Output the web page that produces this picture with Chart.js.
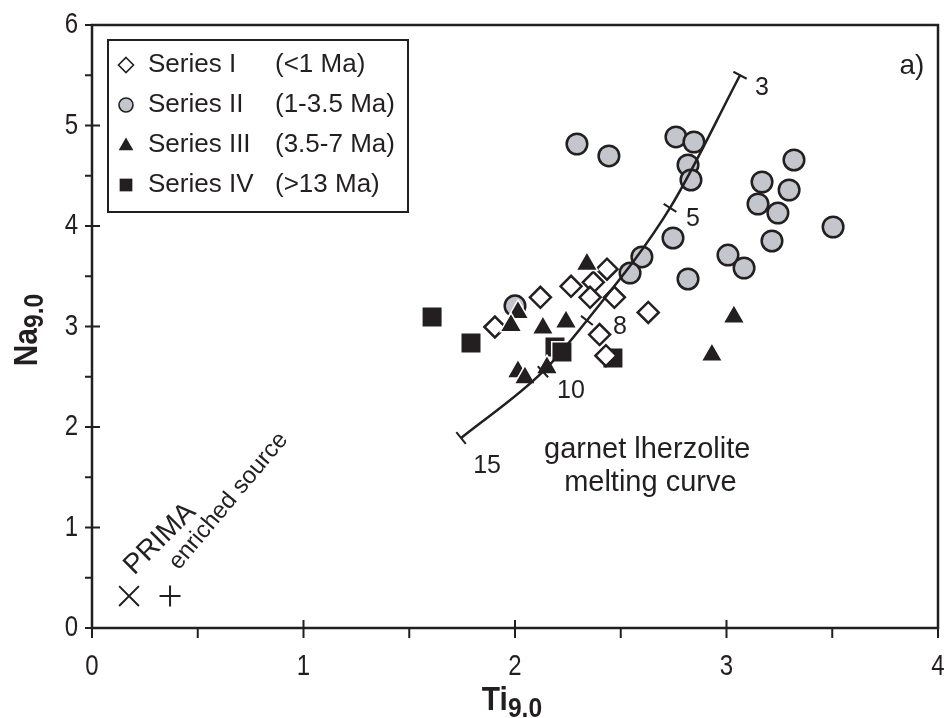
<!DOCTYPE html>
<html>
<head>
<meta charset="utf-8">
<script src="https://cdn.jsdelivr.net/npm/chart.js@4.4.1/dist/chart.umd.min.js"></script>
<style>
  html, body { margin: 0; padding: 0; background: #ffffff; }
  #wrap { width: 949px; height: 718px; position: relative; }
</style>
</head>
<body>
<div id="wrap"><canvas id="chart"></canvas></div>
<script>
// ---- data: Ti9.0 vs Na9.0 ----
const seriesITi  = [1.905, 2.12, 2.265, 2.37, 2.435, 2.355, 2.47, 2.63, 2.40, 2.43];
const seriesINa  = [2.995, 3.29, 3.40, 3.44, 3.57, 3.29, 3.29, 3.14, 2.92, 2.71];

const seriesIITi = [2.293, 2.444, 2.761, 2.846, 2.818, 2.832, 3.319, 3.168, 3.296, 3.149,
                    3.243, 3.504, 3.215, 2.747, 3.007, 3.083, 2.818, 2.600, 2.544, 2.000];
const seriesIINa = [4.816, 4.697, 4.886, 4.836, 4.607, 4.458, 4.657, 4.438, 4.358, 4.219,
                    4.129, 3.990, 3.851, 3.881, 3.711, 3.582, 3.473, 3.692, 3.532, 3.205];

const seriesIIITi = [2.340, 2.014, 1.981, 2.132, 2.241, 2.014, 2.047, 2.151, 3.035, 2.931];
const seriesIIINa = [3.62, 3.14, 3.01, 2.985, 3.045, 2.55, 2.49, 2.59, 3.095, 2.716];

const seriesIVTi = [1.608, 1.792, 2.189, 2.222, 2.463];
const seriesIVNa = [3.095, 2.836, 2.796, 2.746, 2.687];

// reference compositions
const primaTi = [0.175];
const primaNa = [0.318];
const enrichedTi = [0.369];
const enrichedNa = [0.318];

// garnet lherzolite melting curve, labelled by melt fraction (%)
const curveTi = [1.745, 2.132, 2.34, 2.733, 3.064];
const curveNa = [1.89, 2.55, 3.06, 4.18, 5.50];
const curveLabels = ['15', '10', '8', '5', '3'];

// axis ticks
const tiTicks = [0, 1, 2, 3, 4];
const naTicks = [0, 1, 2, 3, 4, 5, 6];

// legend text
const legendNames = ['Series I', 'Series II', 'Series III', 'Series IV'];
const legendAges  = ['(<1 Ma)', '(1-3.5 Ma)', '(3.5-7 Ma)', '(>13 Ma)'];

// ---- styling ----
const INK = '#231f20';
const GREY = '#c3c6cd';
const SANS = "'Liberation Sans', Arial, Helvetica, sans-serif";
const TICK_SQUEEZE = 0.8;    // condensed tick numerals
const TITLE_SQUEEZE = 0.88;  // condensed axis titles

function zip(xs, ys) { return xs.map((x, i) => ({ x: x, y: ys[i] })); }

function marker(ctx, style, x, y, r, fill, stroke, lw) {
  ctx.save();
  ctx.beginPath();
  if (style === 'circle') {
    ctx.arc(x, y, r, 0, Math.PI * 2);
  } else if (style === 'rectRot') {
    ctx.moveTo(x, y - r); ctx.lineTo(x + r, y); ctx.lineTo(x, y + r); ctx.lineTo(x - r, y);
    ctx.closePath();
  } else if (style === 'triangle') {
    const a = Math.PI * 2 / 3;
    ctx.moveTo(x, y - r);
    ctx.lineTo(x + Math.sin(a) * r, y - Math.cos(a) * r);
    ctx.lineTo(x + Math.sin(2 * a) * r, y - Math.cos(2 * a) * r);
    ctx.closePath();
  } else if (style === 'rect') {
    const s = r * Math.SQRT1_2;
    ctx.rect(x - s, y - s, 2 * s, 2 * s);
  }
  if (fill) { ctx.fillStyle = fill; ctx.fill(); }
  if (stroke && lw) { ctx.strokeStyle = stroke; ctx.lineWidth = lw; ctx.stroke(); }
  ctx.restore();
}

// condensed text: drawn with a horizontal squeeze around its anchor
function narrowText(ctx, text, x, y, font, align, baseline) {
  ctx.save();
  ctx.translate(x, y);
  ctx.scale(TICK_SQUEEZE, 1);
  ctx.font = font;
  ctx.textAlign = align;
  ctx.textBaseline = baseline;
  ctx.fillText(text, 0, 0);
  ctx.restore();
}

// main text plus lowered subscript, centred on x (condensed)
function subText(ctx, main, sub, x, y, mainFont, subFont, drop) {
  ctx.save();
  ctx.translate(x, y);
  ctx.scale(TITLE_SQUEEZE, 1);
  ctx.font = mainFont;
  const w1 = ctx.measureText(main).width;
  ctx.font = subFont;
  const w2 = ctx.measureText(sub).width;
  const x0 = -(w1 + w2) / 2;
  ctx.textAlign = 'left';
  ctx.textBaseline = 'alphabetic';
  ctx.font = mainFont;
  ctx.fillText(main, x0, 0);
  ctx.font = subFont;
  ctx.fillText(sub, x0 + w1, drop);
  ctx.restore();
}

const decorations = {
  id: 'decorations',
  beforeDatasetsDraw(chart) {
    const { ctx, chartArea: a, scales } = chart;
    const xs = scales.x, ys = scales.y;
    ctx.save();
    ctx.strokeStyle = INK;
    ctx.lineWidth = 2.5;
    ctx.strokeRect(a.left, a.top, a.right - a.left, a.bottom - a.top);
    ctx.lineWidth = 2;
    ctx.beginPath();
    // x-axis ticks: majors cross the axis, minors hang below
    for (let v = 0; v <= 4.001; v += 0.5) {
      const px = xs.getPixelForValue(v);
      const major = Math.abs(v - Math.round(v)) < 1e-6;
      ctx.moveTo(px, a.bottom + 10);
      ctx.lineTo(px, major ? a.bottom - 8 : a.bottom);
    }
    // y-axis ticks
    for (let v = 0; v <= 6.001; v += 0.5) {
      const py = ys.getPixelForValue(v);
      const major = Math.abs(v - Math.round(v)) < 1e-6;
      ctx.moveTo(a.left - 7, py);
      ctx.lineTo(major ? a.left + 8 : a.left, py);
    }
    ctx.stroke();

    // tick labels from the scales' own ticks
    ctx.fillStyle = INK;
    const tickFont = '30px ' + SANS;
    xs.ticks.forEach(t => narrowText(ctx, String(t.value), xs.getPixelForValue(t.value), a.bottom + 39, tickFont, 'center', 'middle'));
    ys.ticks.forEach(t => narrowText(ctx, String(t.value), a.left - 14, ys.getPixelForValue(t.value), tickFont, 'right', 'middle'));
    ctx.restore();
  },
  afterDatasetsDraw(chart) {
    const { ctx, scales } = chart;
    const xs = scales.x, ys = scales.y;
    ctx.save();
    ctx.fillStyle = INK;
    ctx.strokeStyle = INK;

    // cross ticks along the melting curve
    const meta = chart.getDatasetMeta(0);
    const pts = meta.data.map(p => ({ x: p.x, y: p.y }));
    ctx.lineWidth = 2;
    ctx.beginPath();
    pts.forEach((p, i) => {
      const a = pts[Math.max(0, i - 1)], b = pts[Math.min(pts.length - 1, i + 1)];
      let dx = b.x - a.x, dy = b.y - a.y;
      const len = Math.hypot(dx, dy);
      dx /= len; dy /= len;
      const nx = -dy, ny = dx, h = 7.5;
      ctx.moveTo(p.x - nx * h, p.y - ny * h);
      ctx.lineTo(p.x + nx * h, p.y + ny * h);
    });
    ctx.stroke();

    // melt-fraction labels
    const offs = [[26, 28], [28, 19], [33, 7], [23, 11], [22, 13]];
    ctx.font = '25px ' + SANS;
    ctx.textAlign = 'center';
    ctx.textBaseline = 'middle';
    pts.forEach((p, i) => ctx.fillText(curveLabels[i], p.x + offs[i][0], p.y + offs[i][1]));

    ctx.font = '29px ' + SANS;
    ctx.fillText('garnet lherzolite', xs.getPixelForValue(2.625), ys.getPixelForValue(1.77));
    ctx.fillText('melting curve', xs.getPixelForValue(2.64), ys.getPixelForValue(1.445));

    // rotated captions next to the reference compositions
    ctx.font = '28px ' + SANS;
    ctx.textAlign = 'left';
    ctx.textBaseline = 'alphabetic';
    ctx.save();
    ctx.translate(xs.getPixelForValue(0.200), ys.getPixelForValue(0.52));
    ctx.rotate(-Math.PI / 4);
    ctx.fillText('PRIMA', 0, 0);
    ctx.restore();
    ctx.font = '24px ' + SANS;
    ctx.save();
    ctx.translate(xs.getPixelForValue(0.41), ys.getPixelForValue(0.57));
    ctx.rotate(-50 * Math.PI / 180);
    ctx.fillText('enriched source', 0, 0);
    ctx.restore();

    // panel tag
    ctx.font = '28px ' + SANS;
    ctx.textAlign = 'center';
    ctx.textBaseline = 'middle';
    ctx.fillText('a)', 912, 66);

    // legend
    const lx = 108, ly = 40, lw = 300, lh = 172;
    ctx.fillStyle = '#ffffff';
    ctx.fillRect(lx, ly, lw, lh);
    ctx.lineWidth = 2;
    ctx.strokeStyle = INK;
    ctx.strokeRect(lx, ly, lw, lh);
    const legendMarks = [
      ['rectRot', 7.5, '#ffffff', INK, 1.6],
      ['circle', 7, GREY, INK, 1.6],
      ['triangle', 8.5, INK, null, 0],
      ['rect', 9, INK, null, 0]
    ];
    ctx.font = '26px ' + SANS;
    ctx.textAlign = 'left';
    ctx.textBaseline = 'middle';
    legendNames.forEach((name, i) => {
      const y = 65 + i * 40;
      const m = legendMarks[i];
      marker(ctx, m[0], 126, y + (m[0] === 'triangle' ? 1 : 0), m[1], m[2], m[3], m[4]);
      ctx.fillStyle = INK;
      ctx.fillText(name, 148, y);
      ctx.fillText(legendAges[i], 275, y);
    });

    // axis titles with subscripts
    ctx.fillStyle = INK;
    subText(ctx, 'Ti', '9.0', 512, 710, 'bold 34px ' + SANS, 'bold 28px ' + SANS, 7);
    ctx.save();
    ctx.translate(37, 330);
    ctx.rotate(-Math.PI / 2);
    subText(ctx, 'Na', '9.0', 0, 0, 'bold 34px ' + SANS, 'bold 28px ' + SANS, 6);
    ctx.restore();
    ctx.restore();
  }
};

const cfg = {
  type: 'scatter',
  data: {
    datasets: [
      {
        label: 'garnet lherzolite melting curve',
        type: 'line',
        data: zip(curveTi, curveNa),
        borderColor: INK,
        borderWidth: 2.5,
        pointRadius: 0,
        cubicInterpolationMode: 'monotone',
        fill: false,
        order: 0
      },
      {
        label: legendNames[2],
        data: zip(seriesIIITi, seriesIIINa),
        pointStyle: 'triangle',
        pointRadius: 12.5,
        backgroundColor: INK,
        borderColor: '#ffffff',
        borderWidth: 1.5,
        order: 1
      },
      {
        label: legendNames[0],
        data: zip(seriesITi, seriesINa),
        pointStyle: 'rectRot',
        pointRadius: 10.5,
        backgroundColor: '#ffffff',
        borderColor: INK,
        borderWidth: 2.5,
        order: 2
      },
      {
        label: legendNames[1],
        data: zip(seriesIITi, seriesIINa),
        pointStyle: 'circle',
        pointRadius: 10.3,
        backgroundColor: GREY,
        borderColor: INK,
        borderWidth: 2.5,
        order: 3
      },
      {
        label: legendNames[3],
        data: zip(seriesIVTi, seriesIVNa),
        pointStyle: 'rect',
        pointRadius: 14.5,
        backgroundColor: INK,
        borderColor: '#ffffff',
        borderWidth: 1.5,
        order: 4
      },
      {
        label: 'PRIMA',
        data: zip(primaTi, primaNa),
        pointStyle: 'crossRot',
        pointRadius: 14,
        borderColor: INK,
        borderWidth: 2,
        order: 5
      },
      {
        label: 'enriched source',
        data: zip(enrichedTi, enrichedNa),
        pointStyle: 'cross',
        pointRadius: 10.5,
        borderColor: INK,
        borderWidth: 2,
        order: 6
      }
    ]
  },
  options: {
    responsive: true,
    maintainAspectRatio: false,
    animation: false,
    layout: { autoPadding: false, padding: { left: 0, right: 11, top: 25, bottom: 0 } },
    plugins: {
      legend: { display: false },
      tooltip: { enabled: false },
      title: { display: false }
    },
    scales: {
      x: {
        type: 'linear',
        min: 0,
        max: 4,
        afterBuildTicks: s => { s.ticks = tiTicks.map(v => ({ value: v })); },
        afterFit: s => { s.height = 90; s.paddingLeft = 0; s.paddingRight = 0; },
        grid: { display: false, drawTicks: false },
        border: { display: false },
        ticks: { display: false }
      },
      y: {
        type: 'linear',
        min: 0,
        max: 6,
        afterBuildTicks: s => { s.ticks = naTicks.map(v => ({ value: v })); },
        afterFit: s => { s.width = 92; s.paddingTop = 0; s.paddingBottom = 0; },
        grid: { display: false, drawTicks: false },
        border: { display: false },
        ticks: { display: false }
      }
    }
  },
  plugins: [decorations]
};

new Chart(document.getElementById('chart'), cfg);
</script>
</body>
</html>
